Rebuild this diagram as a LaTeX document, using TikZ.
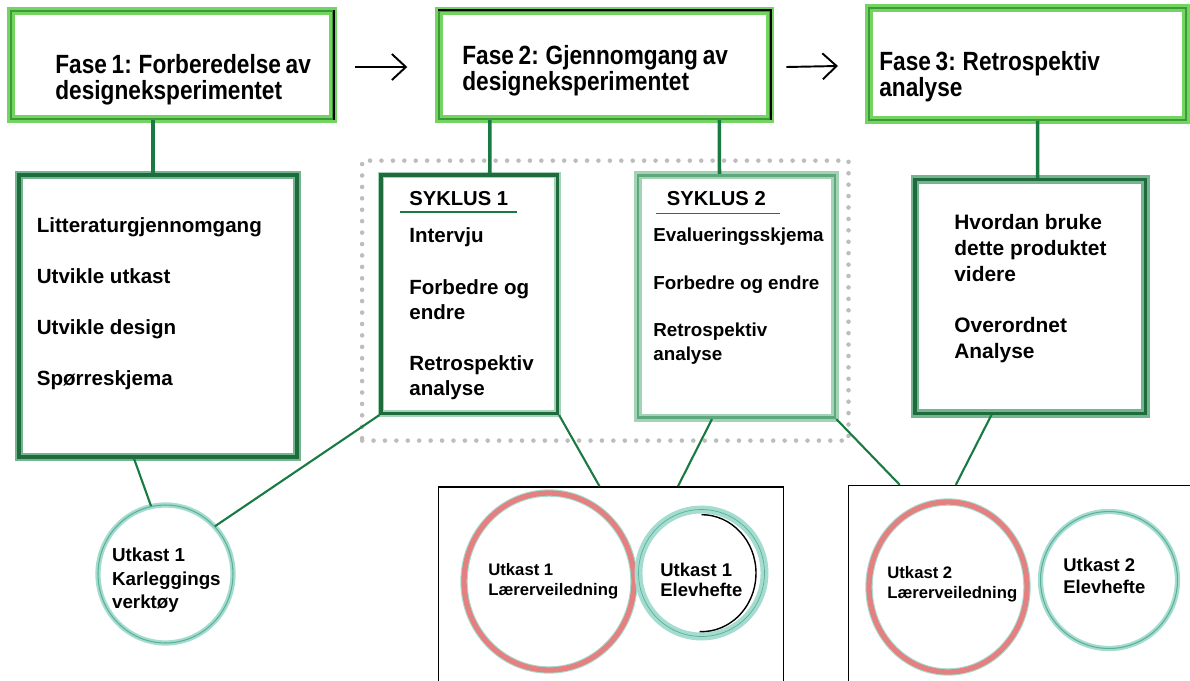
\documentclass[tikz,border=0pt]{standalone}
\usepackage{fontspec}
\setmainfont{Liberation Sans}
\newfontfamily\phasefont{Liberation Sans}[FakeStretch=0.86, WordSpace=0.75]
\usetikzlibrary{arrows.meta, shapes.geometric}

\definecolor{limeglow}{HTML}{74D460}
\definecolor{phaseline}{HTML}{3A9A3C}
\definecolor{boxline}{HTML}{1E6B3D}
\definecolor{boxglow}{HTML}{74B58F}
\definecolor{cycglow}{HTML}{A3D2B5}
\definecolor{cycline}{HTML}{5EA87E}
\definecolor{linkgreen}{HTML}{1A7A44}
\definecolor{ringteal}{HTML}{A4DCCF}
\definecolor{ringtealdark}{HTML}{5DAF99}
\definecolor{ringred}{HTML}{E48080}
\definecolor{dotgray}{HTML}{BDBDBD}

\begin{document}
\begin{tikzpicture}[x=0.02cm, y=-0.02cm, >={Straight Barb[length=0.28cm,width=0.52cm]},
  phasebox/.style={draw=phaseline, line width=1.2pt, preaction={draw=limeglow, line width=4.5pt}, inner sep=0pt},
  listbox/.style={draw=boxline, line width=1.8pt, preaction={draw=boxglow, line width=5pt}, inner sep=0pt},
  cyclebox/.style={draw=boxline, line width=1.8pt, preaction={draw=cycglow, line width=3.5pt}, inner sep=0pt},
  cycleboxlight/.style={draw=cycline, line width=1.5pt, preaction={draw=cycglow, line width=4.5pt}, inner sep=0pt},
  draftbox/.style={draw=black, line width=0.9pt, inner sep=0pt},
  dotframe/.style={draw=dotgray, line width=2.6pt, line cap=round, dash pattern=on 0pt off 6.5pt, inner sep=0pt},
  tealring/.style={ellipse, draw=ringtealdark, line width=0.6pt, preaction={draw=ringteal, line width=3pt}, inner sep=0pt},
  redring/.style={ellipse, draw=ringred, line width=3pt, preaction={draw=ringteal, line width=4.2pt}, inner sep=0pt},
  phaselink/.style={draw=linkgreen, line width=2pt},
  link/.style={draw=linkgreen, line width=1.2pt},
  phasetext/.style={anchor=north west, inner sep=0pt, align=left, font=\phasefont\bfseries\fontsize{15}{14.7}\selectfont},
  bodytext/.style={anchor=north west, inner sep=0pt, align=left}]

% Page frame
\useasboundingbox (0,0) rectangle (1190,680);

% Phase boxes
\node[phasebox, minimum width=6.43cm, minimum height=2.16cm] (f1) at (172,65) {};
\node[phasebox, minimum width=6.62cm, minimum height=2.16cm] (f2) at (604.3,65) {};
\node[phasebox, minimum width=6.34cm, minimum height=2.24cm] (f3) at (1027.5,64) {};
\draw[black, line width=1.2pt] (f1.north east) -- (f1.south east);
\draw[black, line width=1.2pt] (f2.north west) -- (f2.north east) -- (f2.south east);

\node[phasetext] (f1t) at (55,54) {Fase 1: Forberedelse av\\designeksperimentet};
\node[phasetext] (f2t) at (462,45) {Fase 2: Gjennomgang av\\designeksperimentet};
\node[phasetext] (f3t) at (879,51) {Fase 3: Retrospektiv\\analyse};

% Arrows between phases
\draw[->, line width=1.1pt] ([xshift=0.42cm, yshift=-0.04cm]f1.east) -- ([xshift=-0.61cm, yshift=-0.04cm]f2.west);
\draw[->, line width=1.1pt] ([xshift=0.31cm, yshift=-0.04cm]f2.east) -- ([xshift=-0.6cm, yshift=-0.04cm]f3.west);

% Dotted frame round the two cycles
\node[dotframe, minimum width=9.73cm, minimum height=5.6cm] (cyc) at (605.3,300.6) {};

% Content boxes
\node[listbox, minimum width=5.56cm, minimum height=5.64cm] (lst) at (158,316) {};
\node[cyclebox, minimum width=3.53cm, minimum height=4.77cm] (s1) at (469.25,294.2) {};
\node[cycleboxlight, minimum width=3.94cm, minimum height=4.85cm] (s2) at (736.5,296.5) {};
\node[listbox, minimum width=4.61cm, minimum height=4.67cm] (res) at (1030.25,296.5) {};

\node[bodytext, font=\bfseries\fontsize{11.7}{29}\selectfont] (lstt) at (36.5,217)
  {Litteraturgjennomgang\\Utvikle utkast\\Utvikle design\\Spørreskjema};

\node[bodytext, font=\bfseries\fontsize{11.5}{14}\selectfont] (s1h) at (409,191) {SYKLUS 1};
\draw[draw=linkgreen, line width=1pt] ([xshift=-0.18cm, yshift=-0.13cm]s1h.base west) -- ([xshift=0.17cm, yshift=-0.13cm]s1h.base east);
\node[bodytext, font=\bfseries\fontsize{11.7}{14.2}\selectfont] (s1t) at (409,227.5)
  {Intervju\\[15pt]Forbedre og\\endre\\[15pt]Retrospektiv\\analyse};

\node[bodytext, font=\bfseries\fontsize{11.5}{14}\selectfont] (s2h) at (666.6,191) {SYKLUS 2};
\draw[draw=linkgreen, line width=1pt] ([xshift=-0.21cm, yshift=-0.16cm]s2h.base west) -- ([xshift=0.28cm, yshift=-0.16cm]s2h.base east);
\node[bodytext, font=\bfseries\fontsize{10.7}{13.5}\selectfont] (s2t) at (653,228)
  {Evalueringsskjema\\[13.4pt]Forbedre og endre\\[13.4pt]Retrospektiv\\analyse};

\node[bodytext, font=\bfseries\fontsize{11.9}{14.7}\selectfont] (rest) at (954,214)
  {Hvordan bruke\\dette produktet\\videre\\[14.7pt]Overordnet\\Analyse};

% Draft boxes (cut by the lower edge)
\node[draftbox, minimum width=6.9cm, minimum height=4.26cm] (b1) at (611,593.5) {};
\node[draftbox, minimum width=7.03cm, minimum height=4.29cm] (b2) at (1024.3,592.9) {};

% Drafts
\node[tealring, minimum width=2.7cm, minimum height=2.76cm] (k) at (165.5,574) {};
\node[redring, minimum width=3.4cm, minimum height=3.54cm] (l1) at (549,581.5) {};
\node[tealring, line width=0.4pt, preaction={draw=ringteal, line width=4.5pt}, minimum width=2.52cm, minimum height=2.54cm] (e1) at (701.5,573) {};
\draw[black, line width=0.8pt] ([yshift=-0.11cm]e1.north) arc[start angle=90, end angle=-92, x radius=1.09cm, y radius=1.17cm];
\node[redring, minimum width=3.16cm, minimum height=3.4cm] (l2) at (948,587) {};
\node[tealring, minimum width=2.74cm, minimum height=2.74cm] (e2) at (1109,580) {};

\node[bodytext, font=\bfseries\fontsize{10.7}{13.2}\selectfont] (kt) at (111.7,548) {Utkast 1\\Karleggings\\verktøy};
\node[bodytext, font=\bfseries\fontsize{9.5}{11.5}\selectfont] (l1t) at (488,563) {Utkast 1\\Lærerveiledning};
\node[bodytext, font=\bfseries\fontsize{10.5}{11.5}\selectfont] (e1t) at (660,563) {Utkast 1\\Elevhefte};
\node[bodytext, font=\bfseries\fontsize{9.5}{11.5}\selectfont] (l2t) at (887,566) {Utkast 2\\Lærerveiledning};
\node[bodytext, font=\bfseries\fontsize{10.5}{12.5}\selectfont] (e2t) at (1063,558) {Utkast 2\\Elevhefte};

% Connectors
\draw[phaselink] ([xshift=-0.38cm]f1.south) -- ([xshift=-0.1cm]lst.north);
\draw[phaselink] ([xshift=-2.29cm]f2.south) -- ([xshift=0.41cm]s1.north);
\draw[phaselink] ([xshift=2.3cm]f2.south) -- ([xshift=-0.34cm]s2.north);
\draw[phaselink] ([xshift=0.2cm]f3.south) -- ([xshift=0.145cm]res.north);
\draw[link] ([xshift=-0.48cm]lst.south) -- (k.102);
\draw[link] (s1.south west) -- (k.44);
\draw[link] (s1.south east) -- ([xshift=-0.23cm]b1.north);
\draw[link] ([xshift=-0.49cm]s2.south) -- ([xshift=1.34cm]b1.north);
\draw[link] (s2.south east) -- ([xshift=-2.49cm]b2.north);
\draw[link] ([xshift=-0.775cm]res.south) -- ([xshift=-1.37cm]b2.north);

\end{tikzpicture}
\end{document}
